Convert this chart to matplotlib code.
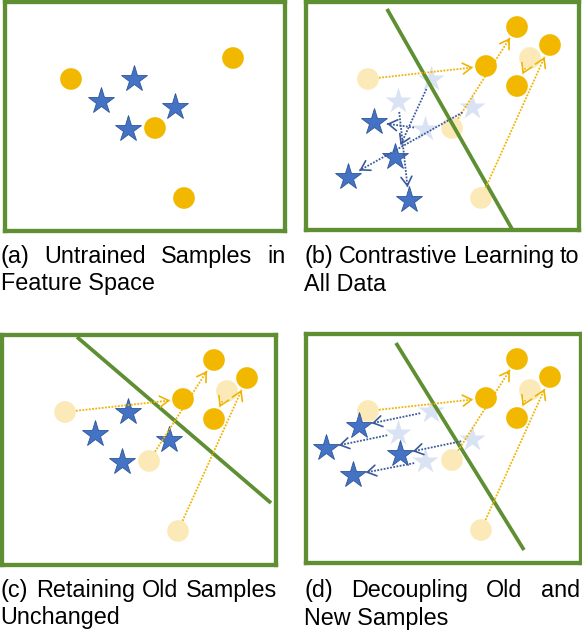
import numpy as np
import matplotlib
matplotlib.use('Agg')
import matplotlib.pyplot as plt

# Feature-space positions (pixel-like units of panel (a))
old_circle_x = [71, 233, 155, 184]
old_circle_y = [79, 58, 128, 198]
old_star_x = [134, 101, 175, 128]
old_star_y = [79, 101, 107, 129]

new_circle_x = [220, 253, 189, 220]
new_circle_y = [27, 45, 66, 86]

# stars after contrastive learning to all data (b)
star_b_x = [77, 98, 51, 112]
star_b_y = [122, 157, 177, 200]
# stars after decoupling (d)
star_d_x = [62, 29, 103, 56]
star_d_y = [94, 116, 122, 143]

# which new sample each old sample moves to
circle_moves = [2, 3, 0, 1]
star_moves_b = [1, 3, 2, 0]
star_moves_d = [0, 1, 2, 3]

# decision boundaries (end points)
boundary_b = ([90, 215], [9, 229])
boundary_c = ([83, 277], [4, 170])
boundary_d = ([99, 227], [11, 218])

captions = [
    ("(a) Untrained Samples in", "Feature Space"),
    ("(b) Contrastive Learning to", "All Data"),
    ("(c) Retaining Old Samples", "Unchanged"),
    ("(d) Decoupling Old and", "New Samples"),
]

GREEN = '#5E8F32'
GOLD = '#F2B800'
GOLD_LIGHT = '#FBE9B7'
BLUE = '#4472C4'
BLUE_EDGE = '#2F5597'
BLUE_LIGHT = '#DAE3F3'
ARROW_GOLD = '#F0B400'
ARROW_BLUE = '#3A5A9A'

W, H = 582, 635
fig = plt.figure(figsize=(W / 100, H / 100), dpi=100)
plt.rcParams['font.family'] = ['Liberation Sans', 'DejaVu Sans']

# panel boxes in image pixels (left, right, top, bottom) and content offset
boxes = [(5, 284.5, 2, 231), (306, 578.5, 1.7, 230),
         (2, 276, 335, 564.5), (306, 580.5, 334, 563)]
offsets = [(0, 0), (297, 0), (-6, 333), (297, 332)]

CIRCLE_S = 15.6 ** 2
STAR_MS = 20


def make_ax(box, off):
    l, r, t, b = box
    ax = fig.add_axes([l / W, 1 - b / H, (r - l) / W, (b - t) / H])
    ax.set_xlim(l - off[0], r - off[0])
    ax.set_ylim(b - off[1], t - off[1])
    ax.set_xticks([])
    ax.set_yticks([])
    for s in ax.spines.values():
        s.set_color(GREEN)
        s.set_linewidth(3.1)
    return ax


def arrow(ax, x0, y0, x1, y1, color, shrink_a=11, shrink_b=13):
    d = np.array([x1 - x0, y1 - y0], float)
    L = np.hypot(*d)
    u = d / L
    p0 = np.array([x0, y0]) + u * shrink_a
    p1 = np.array([x1, y1]) - u * shrink_b
    ax.plot([p0[0], p1[0]], [p0[1], p1[1]], color=color, lw=1.3,
            linestyle=(0, (1, 0.8)), zorder=4, clip_on=False)
    ax.annotate('', xy=p1, xytext=p1 - u * 3,
                arrowprops=dict(arrowstyle='->,head_length=0.45,head_width=0.28',
                                color=color, lw=1.2, mutation_scale=14,
                                shrinkA=0, shrinkB=0), zorder=4)


def circles(ax, xs, ys, color, z):
    ax.scatter(xs, ys, s=CIRCLE_S, color=color, edgecolors='none', zorder=z, clip_on=False)


def stars(ax, xs, ys, color, edge, z):
    ax.plot(xs, ys, '*', ms=STAR_MS, color=color, mec=edge, mew=0.6,
            linestyle='none', zorder=z, clip_on=False)


axes = [make_ax(b, o) for b, o in zip(boxes, offsets)]

# (a)
ax = axes[0]
circles(ax, old_circle_x, old_circle_y, GOLD, 3)
stars(ax, old_star_x, old_star_y, BLUE, BLUE_EDGE, 3)

# (b), (c), (d) share the moving old samples
for k, ax in enumerate(axes[1:], start=1):
    circles(ax, old_circle_x, old_circle_y, GOLD_LIGHT, 1)
    circles(ax, new_circle_x, new_circle_y, GOLD, 5)
    for i, j in enumerate(circle_moves):
        arrow(ax, old_circle_x[i], old_circle_y[i], new_circle_x[j], new_circle_y[j], ARROW_GOLD)

ax = axes[1]
stars(ax, old_star_x, old_star_y, BLUE_LIGHT, 'none', 1)
stars(ax, star_b_x, star_b_y, BLUE, BLUE_EDGE, 3)
ax.plot(*boundary_b, color=GREEN, lw=2.7, zorder=2, solid_capstyle='butt')
for i, j in enumerate(star_moves_b):
    arrow(ax, old_star_x[i], old_star_y[i], star_b_x[j], star_b_y[j], ARROW_BLUE)

ax = axes[2]
stars(ax, old_star_x, old_star_y, BLUE, BLUE_EDGE, 3)
ax.plot(*boundary_c, color=GREEN, lw=2.7, zorder=2, solid_capstyle='butt')

ax = axes[3]
stars(ax, old_star_x, old_star_y, BLUE_LIGHT, 'none', 1)
stars(ax, star_d_x, star_d_y, BLUE, BLUE_EDGE, 3)
ax.plot(*boundary_d, color=GREEN, lw=2.7, zorder=2, solid_capstyle='butt')
for i, j in enumerate(star_moves_d):
    arrow(ax, old_star_x[i], old_star_y[i], star_d_x[j], star_d_y[j], ARROW_BLUE)

# captions: first line justified across the box, second line left aligned
renderer = fig.canvas.get_renderer()
cap_x = [(1, 285.5), (304, 579.5), (0.5, 277.5), (304, 580)]
cap_y = [(263, 290), (263, 291), (597, 624), (597, 625)]
FS = 16.8


def put_words(words, x0, x1, y, justify):
    ts = [fig.text(0, 1 - y / H, w, fontsize=FS, va='baseline', ha='left') for w in words]
    widths = [t.get_window_extent(renderer).width for t in ts]
    if justify and len(words) > 1:
        gap = (x1 - x0 - sum(widths)) / (len(words) - 1)
    else:
        gap = fig.text(0, 0, ' ', fontsize=FS).get_window_extent(renderer).width
    x = x0
    for t, w in zip(ts, widths):
        t.set_x(x / W)
        x += w + gap


for (l1, l2), (x0, x1), (y1, y2) in zip(captions, cap_x, cap_y):
    put_words(l1.split(), x0, x1, y1, True)
    fig.text(x0 / W, 1 - y2 / H, l2, fontsize=FS, va='baseline', ha='left')

fig.savefig('out.png', dpi=100)
